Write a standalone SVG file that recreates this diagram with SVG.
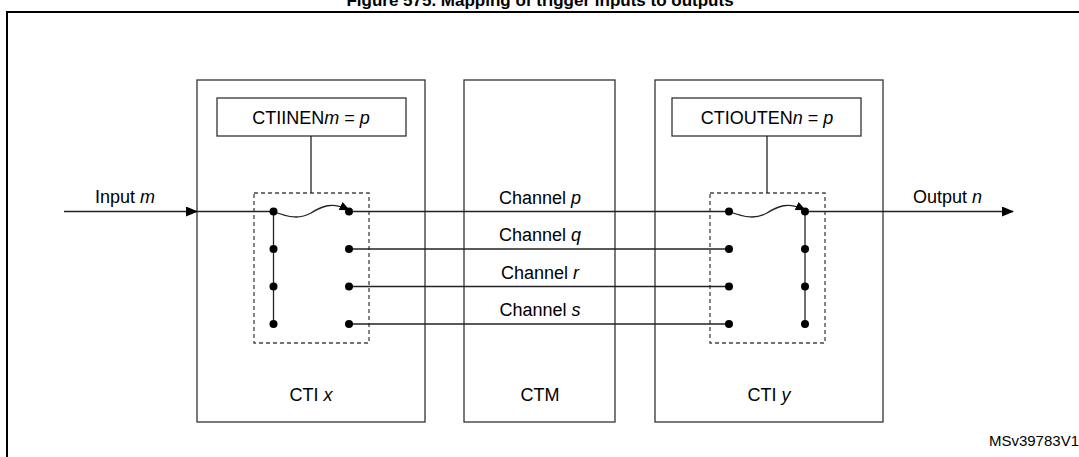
<svg xmlns="http://www.w3.org/2000/svg" width="1079" height="457" viewBox="0 0 1079 457">
<style>
text{font-family:"Liberation Sans",Arial,sans-serif;font-size:18px;fill:#000}
.b{fill:#fff;stroke:#333;stroke-width:1.3}
.d{fill:none;stroke:#444;stroke-width:1.3;stroke-dasharray:4,3}
.l{stroke:#222;stroke-width:1.3;fill:none}
.m{text-anchor:middle}
</style>
<defs>
<marker id="ah" markerWidth="12" markerHeight="10" refX="11" refY="5" orient="auto" markerUnits="userSpaceOnUse"><path d="M0,0 L12,5 L0,10 Z" fill="#000"/></marker>
<marker id="as" markerWidth="10" markerHeight="9" refX="7" refY="4.5" orient="auto" markerUnits="userSpaceOnUse"><path d="M0,0 L10,4.5 L0,9 Z" fill="#000"/></marker>
</defs>
<text x="540" y="6" class="m" style="font-weight:bold;font-size:17px">Figure 575. Mapping of trigger inputs to outputs</text>
<rect x="7" y="12" width="1080" height="460" fill="none" stroke="#000" stroke-width="2"/>
<g id="ctix"><rect class="b" x="197" y="80" width="228" height="342"/><text x="311" y="401" class="m">CTI <tspan font-style="italic">x</tspan></text></g>
<g id="ctm"><rect class="b" x="464" y="80" width="151" height="342"/><text x="540" y="401" class="m">CTM</text></g>
<g id="ctiy"><rect class="b" x="655" y="80" width="228" height="342"/><text x="769" y="401" class="m">CTI <tspan font-style="italic">y</tspan></text></g>
<g id="inen"><rect class="b" x="217" y="98" width="189" height="38"/><text x="311" y="124" class="m">CTIINEN<tspan font-style="italic">m</tspan> = <tspan font-style="italic">p</tspan></text></g>
<g id="outen"><rect class="b" x="672" y="98" width="189" height="38"/><text x="767" y="124" class="m">CTIOUTEN<tspan font-style="italic">n</tspan> = <tspan font-style="italic">p</tspan></text></g>
<g id="swx"><rect class="d" x="254" y="193" width="115" height="150"/></g>
<g id="swy"><rect class="d" x="710" y="193" width="115" height="150"/></g>
<g id="connectors">
<line class="l" x1="311" y1="136" x2="311" y2="193"/>
<line class="l" x1="767" y1="136" x2="767" y2="193"/>
<line class="l" x1="64" y1="211.5" x2="197" y2="211.5" marker-end="url(#ah)"/>
<line class="l" x1="197" y1="211.5" x2="273.5" y2="211.5"/>
<line class="l" x1="349" y1="211.5" x2="729" y2="211.5"/>
<line class="l" x1="805" y1="211.5" x2="1013" y2="211.5" marker-end="url(#ah)"/>
<line class="l" x1="349" y1="249" x2="729" y2="249"/>
<line class="l" x1="349" y1="286.5" x2="729" y2="286.5"/>
<line class="l" x1="349" y1="324" x2="729" y2="324"/>
<line class="l" x1="273.5" y1="211.5" x2="273.5" y2="324"/>
<line class="l" x1="805" y1="211.5" x2="805" y2="324"/>
<path class="l" d="M273.5,211.5 C290,218 300,219 311,213 C322,206 332,202 347,209" marker-end="url(#as)"/>
<path class="l" d="M729,211.5 C746,218 756,219 767,213 C778,206 788,202 803,209" marker-end="url(#as)"/>
<g fill="#000">
<circle cx="273.5" cy="211.5" r="4"/><circle cx="273.5" cy="249" r="4"/><circle cx="273.5" cy="286.5" r="4"/><circle cx="273.5" cy="324" r="4"/>
<circle cx="349" cy="211.5" r="4"/><circle cx="349" cy="249" r="4"/><circle cx="349" cy="286.5" r="4"/><circle cx="349" cy="324" r="4"/>
<circle cx="729" cy="211.5" r="4"/><circle cx="729" cy="249" r="4"/><circle cx="729" cy="286.5" r="4"/><circle cx="729" cy="324" r="4"/>
<circle cx="805" cy="211.5" r="4"/><circle cx="805" cy="249" r="4"/><circle cx="805" cy="286.5" r="4"/><circle cx="805" cy="324" r="4"/>
</g>
</g>
<text x="95" y="203">Input <tspan font-style="italic">m</tspan></text>
<text x="913" y="203">Output <tspan font-style="italic">n</tspan></text>
<text x="540" y="204" class="m">Channel <tspan font-style="italic">p</tspan></text>
<text x="540" y="241" class="m">Channel <tspan font-style="italic">q</tspan></text>
<text x="540" y="279" class="m">Channel <tspan font-style="italic">r</tspan></text>
<text x="540" y="316" class="m">Channel <tspan font-style="italic">s</tspan></text>
<text x="1079" y="446" style="font-size:15px;text-anchor:end">MSv39783V1</text>
</svg>
